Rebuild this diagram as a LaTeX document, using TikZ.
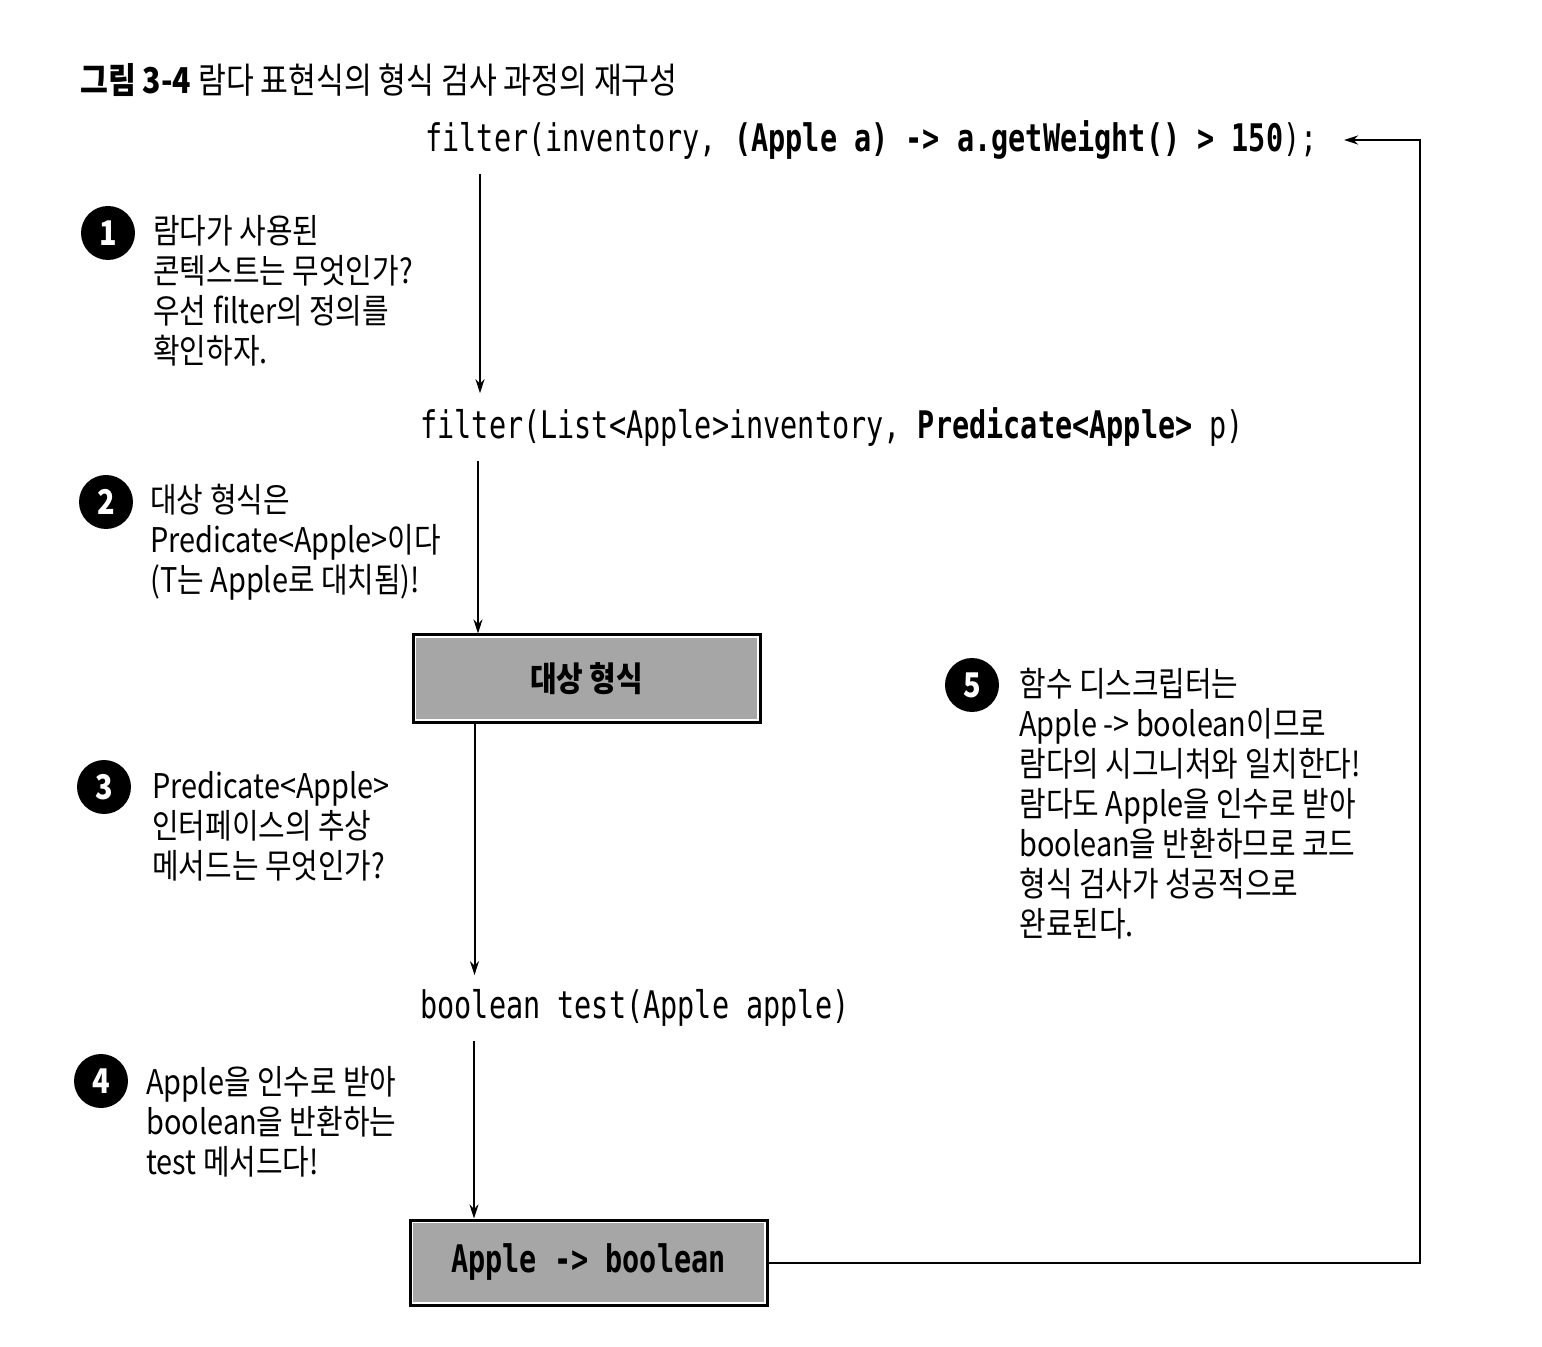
\documentclass[tikz,border=0pt]{standalone}
\usepackage{fontspec}
\setmainfont{Noto Sans CJK KR}[FakeStretch=0.85]
\newfontfamily\codefont{DejaVu Sans Mono}[FakeStretch=0.75]
\usetikzlibrary{positioning, arrows.meta}

\tikzset{
    code/.style={anchor=west, inner sep=7pt, font=\codefont\fontsize{19}{22}\selectfont},
    note/.style={anchor=north west, align=left, inner sep=0pt, font=\fontsize{17}{20}\selectfont},
    num/.style={circle, fill=black, text=white, inner sep=0pt, minimum size=27pt,
        font=\bfseries\fontsize{17}{17}\selectfont},
    tbox/.style={draw=black, line width=1.5pt, fill=white,
        path picture={\fill[black!35] ([shift={(1.6pt,-1.6pt)}]path picture bounding box.north west)
            rectangle ([shift={(-1.6pt,1.6pt)}]path picture bounding box.south east);}},
    arr/.style={-{Stealth[length=7pt,width=4.5pt]}, line width=1pt}
}

\begin{document}
\begin{tikzpicture}[x=0.5pt, y=-0.5pt]
    \useasboundingbox (0,0) rectangle (1542,1347);
    \node[anchor=west, inner sep=0pt, font=\fontsize{17.8}{20}\selectfont] (title) at (80,80)
        {\textbf{그림 3-4} 람다 표현식의 형식 검사 과정의 재구성};

    % code lines and boxes
    \node[code] (c1) at (411,140) {filter(inventory, \textbf{(Apple a) -> a.getWeight() > 150});};
    \node[code] (c2) at (406,427) {filter(List<Apple>inventory, \textbf{Predicate<Apple>} p)};
    \node[tbox, minimum width=173.5pt, minimum height=43.5pt, font=\bfseries\fontsize{17}{18}\selectfont]
        (tgt) at (586.5,678.5) {대상 형식};
    \node[code] (c3) at (406,1008) {boolean test(Apple apple)};
    \node[tbox, minimum width=178.5pt, minimum height=42.5pt, font=\codefont\bfseries\fontsize{19}{22}\selectfont]
        (sig) at (588.5,1262.5) {Apple -> boolean};

    \draw[arr] ([xshift=34.5pt]c1.south west) -- ([xshift=34.5pt]c1.south west |- c2.north);
    \draw[arr] ([xshift=36pt]c2.south west) -- ([xshift=36pt]c2.south west |- tgt.north);
    \draw[arr] ([xshift=31.5pt]tgt.south west) -- ([xshift=31.5pt]tgt.south west |- c3.north);
    \draw[arr] ([xshift=34pt]c3.south west) -- ([xshift=34pt]c3.south west |- sig.north);
    \coordinate (ret) at (1420,0);
    \draw[arr, shorten >=6pt] (sig.east) -| (ret |- c1.east) -- (c1.east);

    % numbered notes
    \foreach \n/\x/\y in {1/108/233, 2/106/502, 3/104/787, 4/101/1081, 5/972/685}
        \node[num] (n\n) at (\x,\y) {\n};
    \node[note] (t1) at (153,215) {람다가 사용된\\콘텍스트는 무엇인가?\\우선 filter의 정의를\\확인하자.};
    \node[note] (t2) at (150,484) {대상 형식은\\Predicate<Apple>이다\\(T는 Apple로 대치됨)!};
    \node[note] (t3) at (152,771) {Predicate<Apple>\\인터페이스의 추상\\메서드는 무엇인가?};
    \node[note] (t4) at (146,1066) {Apple을 인수로 받아\\boolean을 반환하는\\test 메서드다!};
    \node[note] (t5) at (1019,668) {함수 디스크립터는\\Apple -> boolean이므로\\람다의 시그니처와 일치한다!\\람다도 Apple을 인수로 받아\\boolean을 반환하므로 코드\\형식 검사가 성공적으로\\완료된다.};
\end{tikzpicture}
\end{document}
